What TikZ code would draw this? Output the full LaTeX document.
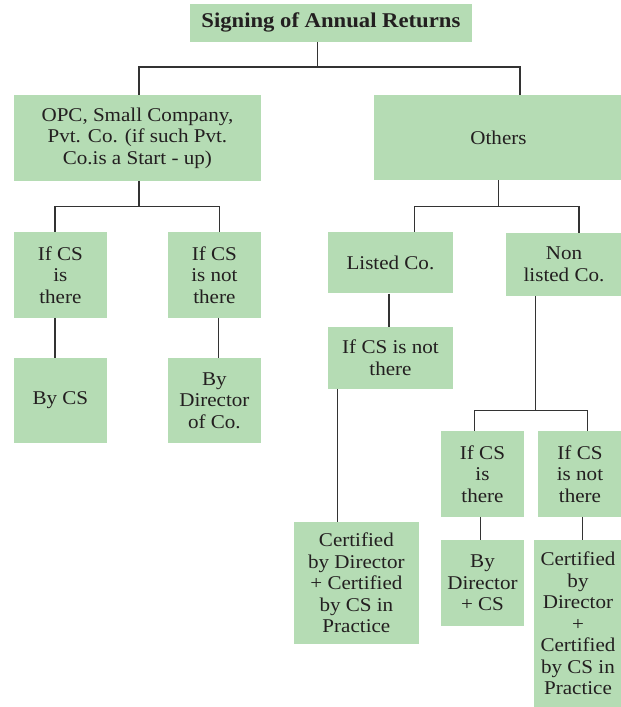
\documentclass[tikz,border=0pt]{standalone}
\usepackage{fontspec}
\setmainfont{Liberation Serif}[FakeStretch=1.08]
\definecolor{boxgreen}{RGB}{181,220,180}
\definecolor{ink}{RGB}{35,31,32}
\tikzset{
  box/.style={fill=boxgreen, draw=none, inner sep=0pt, align=center,
    text=ink, font=\fontsize{19.5}{21.5}\selectfont},
  link/.style={draw=black!80, line width=1.1pt}
}
\begin{document}
\begin{tikzpicture}[x=1pt,y=-1pt]
\useasboundingbox (0,0) rectangle (621,707);
\fill[white] (0,0) rectangle (621,707);

% boxes
\node[box, minimum width=281.7, minimum height=37.7,
  font=\bfseries\fontsize{21}{23}\selectfont] (title) at (330.9,22.9) {Signing of Annual Returns};
\node[box, minimum width=246.7, minimum height=85.7] (opc) at (137.4,137.9)
  {OPC, Small Company,\\Pvt. Co. (if such Pvt.\\Co.is a Start - up)};
\node[box, minimum width=249, minimum height=85] (oth) at (498.5,137.5) {Others};

\node[box, minimum width=92.7, minimum height=85.7] (l1) at (60.4,274.9) {If CS\\is\\there};
\node[box, minimum width=92.7, minimum height=85.7] (l2) at (214.4,274.9) {If CS\\is not\\there};
\node[box, minimum width=92.7, minimum height=85.6] (l3) at (60.4,400.5) {By CS};
\node[box, minimum width=92.7, minimum height=85.6] (l4) at (214.4,400.5) {By\\Director\\of Co.};

\node[box, minimum width=124.7, minimum height=61.3] (lst) at (390.4,262.7) {Listed Co.};
\node[box, minimum width=116.6, minimum height=63] (nls) at (564,264.5) {Non\\listed Co.};
\node[box, minimum width=125, minimum height=61.7] (lif) at (390.5,357.9) {If CS is not\\there};
\node[box, minimum width=124.7, minimum height=122.3] (lcert) at (356.4,583.2)
  {Certified\\by Director\\+ Certified\\by CS in\\Practice};

\node[box, minimum width=83, minimum height=85.7] (r1) at (482.5,473.9) {If CS\\is\\there};
\node[box, minimum width=84, minimum height=85.7] (r2) at (580,473.9) {If CS\\is not\\there};
\node[box, minimum width=83, minimum height=85.7] (r3) at (482.5,582.9) {By\\Director\\+ CS};
\node[box, minimum width=88, minimum height=166.7] (r4) at (578,623.4)
  {Certified\\by\\Director\\+\\Certified\\by CS in\\Practice};

% junction points of the branch lines
\coordinate (j0) at (317.3,67);
\coordinate (jopc) at (139,206.7);
\coordinate (joth) at (498.3,206.7);
\coordinate (jnls) at (535.7,410.7);

% top level
\draw[link] (title.south -| j0) -- (j0);
\draw[link] (opc.north -| 139,0) |- (j0) -| (oth.north -| 520,0);

% OPC branch
\draw[link] (opc.south -| jopc) -- (jopc);
\draw[link] (l1.north -| 55,0) |- (jopc) -| (l2.north -| 219.5,0);
\draw[link] (l1.south -| 55,0) -- (l3.north -| 55,0);
\draw[link] (l2.south -| 218.3,0) -- (l4.north -| 218.3,0);

% Others branch
\draw[link] (oth.south -| joth) -- (joth);
\draw[link] (lst.north -| 414.3,0) |- (joth) -| (nls.north -| 579,0);
\draw[link] (lst.south -| 389,0) -- (lif.north -| 389,0);
\draw[link] (lif.south -| 337.7,0) -- (lcert.north -| 337.7,0);

% non listed branch
\draw[link] (nls.south -| jnls) -- (jnls);
\draw[link] (r1.north -| 474.5,0) |- (jnls) -| (r2.north -| 587.7,0);
\draw[link] (r1.south -| 480.7,0) -- (r3.north -| 480.7,0);
\draw[link] (r2.south -| 582.7,0) -- (r4.north -| 582.7,0);
\end{tikzpicture}
\end{document}
